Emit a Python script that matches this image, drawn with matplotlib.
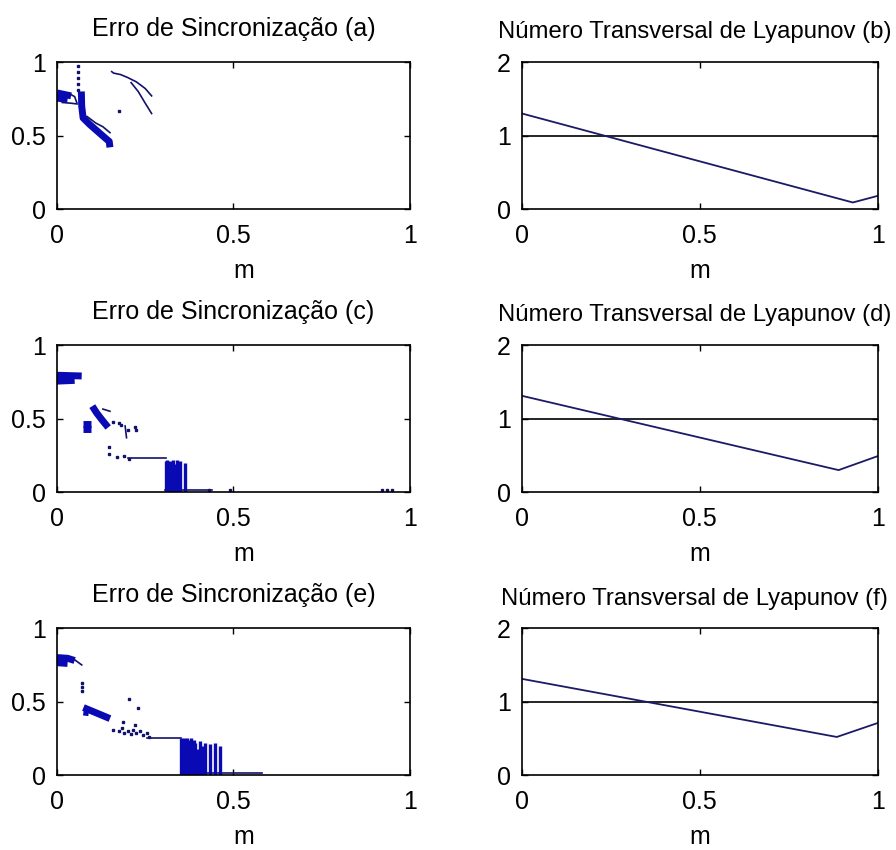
"""Synchronization error and transversal Lyapunov number versus m."""
import matplotlib.pyplot as plt

plt.rcParams["font.family"] = ["Liberation Sans", "DejaVu Sans"]

DENSE_BLUE = "#0a0ab4"
DARK_BLUE = "#12126a"
LINE_BLUE = "#1a1a66"

M_TICKS = [0, 0.5, 1]
ERR_TICKS = [0, 0.5, 1]
LYAP_TICKS = [0, 1, 2]
LYAP_REF = 1.0

err_titles = ["Erro de Sincronização (a)", "Erro de Sincronização (c)", "Erro de Sincronização (e)"]
lyap_titles = [
    "Número Transversal de Lyapunov (b)",
    "Número Transversal de Lyapunov (d)",
    "Número Transversal de Lyapunov (f)",
]

# transversal Lyapunov number (breakpoints of each curve)
lyap_b_m = [0.0, 0.93, 1.0]
lyap_b = [1.30, 0.09, 0.18]
lyap_d_m = [0.0, 0.89, 1.0]
lyap_d = [1.31, 0.30, 0.49]
lyap_f_m = [0.0, 0.885, 1.0]
lyap_f = [1.31, 0.52, 0.71]

# synchronization error (a): dense clusters, thin branches, isolated points
err_a_dense = [
    ([0.0, 0.02, 0.04], [0.79, 0.78, 0.77]),
    ([0.0, 0.03], [0.755, 0.745]),
    ([0.069, 0.070, 0.074, 0.093, 0.112, 0.131, 0.148, 0.150],
     [0.80, 0.70, 0.62, 0.575, 0.535, 0.495, 0.46, 0.42]),
]
err_a_thin = [
    ([0.035, 0.05, 0.056], [0.785, 0.765, 0.725]),
    ([0.015, 0.04, 0.057], [0.725, 0.72, 0.715]),
    ([0.085, 0.11, 0.13, 0.15], [0.63, 0.585, 0.56, 0.52]),
    ([0.155, 0.16, 0.18, 0.20, 0.225, 0.25, 0.268], [0.935, 0.925, 0.915, 0.895, 0.865, 0.82, 0.77]),
    ([0.21, 0.23, 0.25, 0.268], [0.86, 0.80, 0.72, 0.65]),
]
err_a_dots_m = [0.059, 0.059, 0.059, 0.059, 0.059, 0.176]
err_a_dots = [0.97, 0.93, 0.89, 0.85, 0.81, 0.67]
err_a_bars_m = []
err_a_bars = []

# synchronization error (c)
err_c_dense = [
    ([0.0, 0.07], [0.795, 0.79]),
    ([0.0, 0.05], [0.755, 0.76]),
    ([0.100, 0.112, 0.128, 0.145], [0.585, 0.54, 0.49, 0.44]),
    ([0.075, 0.096], [0.465, 0.465]),
    ([0.075, 0.096], [0.43, 0.43]),
]
err_c_thin = [
    ([0.20, 0.31], [0.235, 0.235]),
    ([0.13, 0.15], [0.565, 0.55]),
    ([0.306, 0.44], [0.012, 0.012]),
    ([0.193, 0.197], [0.45, 0.37]),
]
err_c_dots_m = [0.16, 0.175, 0.18, 0.2, 0.22, 0.225, 0.148, 0.148, 0.17, 0.19, 0.205,
                0.43, 0.49, 0.92, 0.935, 0.948]
err_c_dots = [0.48, 0.47, 0.455, 0.42, 0.445, 0.42, 0.31, 0.26, 0.24, 0.245, 0.225,
              0.012, 0.015, 0.012, 0.012, 0.012]
err_c_bars_m = [0.308, 0.312, 0.316, 0.320, 0.324, 0.328, 0.332, 0.341, 0.348, 0.363]
err_c_bars = [0.21, 0.22, 0.17, 0.21, 0.16, 0.22, 0.19, 0.22, 0.21, 0.20]

# synchronization error (e)
err_e_dense = [
    ([0.0, 0.03, 0.05], [0.80, 0.795, 0.78]),
    ([0.0, 0.03], [0.765, 0.76]),
    ([0.075, 0.10, 0.125, 0.150], [0.46, 0.435, 0.41, 0.385]),
    ([0.075, 0.09], [0.43, 0.425]),
]
err_e_thin = [
    ([0.05, 0.07], [0.785, 0.75]),
    ([0.254, 0.35], [0.255, 0.255]),
    ([0.35, 0.58], [0.012, 0.012]),
]
err_e_dots_m = [0.07, 0.07, 0.07, 0.204, 0.23, 0.188, 0.22, 0.16, 0.175, 0.185, 0.19, 0.2,
                0.21, 0.215, 0.225, 0.235, 0.245, 0.255, 0.26]
err_e_dots = [0.63, 0.6, 0.57, 0.52, 0.46, 0.365, 0.34, 0.31, 0.30, 0.32, 0.29, 0.30,
              0.28, 0.31, 0.29, 0.30, 0.27, 0.29, 0.26]
err_e_bars_m = [0.352, 0.356, 0.36, 0.364, 0.368, 0.372, 0.376, 0.38, 0.384, 0.388, 0.392,
                0.396, 0.405, 0.41, 0.42, 0.433, 0.448, 0.462]
err_e_bars = [0.25, 0.24, 0.25, 0.22, 0.25, 0.24, 0.23, 0.25, 0.21, 0.24, 0.22,
              0.18, 0.23, 0.2, 0.22, 0.21, 0.22, 0.2]


def style_axes(ax, yticks, yticklabels):
    """Boxed axes with inward ticks on every side."""
    ax.set_xlim(0, 1)
    ax.set_ylim(yticks[0], yticks[-1])
    ax.set_xticks(M_TICKS)
    ax.set_xticklabels(["0", "0.5", "1"])
    ax.set_yticks(yticks)
    ax.set_yticklabels(yticklabels)
    ax.tick_params(direction="in", top=True, right=True, length=4, width=1,
                   labelsize=18, pad=8)
    ax.tick_params(axis="x", pad=11)
    for sp in ax.spines.values():
        sp.set_linewidth(1.2)
    ax.set_xlabel("m", fontsize=18)


def err_panel(ax, title, dense, thin, dots_m, dots, bars_m, bars):
    """Scatter of synchronization error."""
    for m, e in dense:
        ax.plot(m, e, color=DENSE_BLUE, lw=5, solid_capstyle="butt")
    for m, e in thin:
        ax.plot(m, e, color=DARK_BLUE, lw=1.2)
    if bars_m:
        ax.vlines(bars_m, 0, bars, color=DENSE_BLUE, lw=2.4)
    ax.plot(dots_m, dots, "s", ms=1.8, color=DARK_BLUE, ls="none")
    style_axes(ax, ERR_TICKS, ["0", "0.5", "1"])
    ax.set_title(title, fontsize=18, pad=19)
    ax.xaxis.set_label_coords(0.53, -0.34)


def lyap_panel(ax, title, m, lyap):
    """Transversal Lyapunov number with the unit reference line."""
    ax.axhline(LYAP_REF, color="black", lw=1.2)
    ax.plot(m, lyap, color=LINE_BLUE, lw=1.3)
    style_axes(ax, LYAP_TICKS, ["0", "1", "2"])
    ax.set_title(title, fontsize=17.2, pad=17, x=0.486)
    ax.xaxis.set_label_coords(0.5, -0.34)


fig = plt.figure(figsize=(8.96, 8.5), dpi=100)
rows = [0.754, 0.421, 0.088]
err_data = [
    (err_a_dense, err_a_thin, err_a_dots_m, err_a_dots, err_a_bars_m, err_a_bars),
    (err_c_dense, err_c_thin, err_c_dots_m, err_c_dots, err_c_bars_m, err_c_bars),
    (err_e_dense, err_e_thin, err_e_dots_m, err_e_dots, err_e_bars_m, err_e_bars),
]
lyap_data = [(lyap_b_m, lyap_b), (lyap_d_m, lyap_d), (lyap_f_m, lyap_f)]

for i, bottom in enumerate(rows):
    ax_l = fig.add_axes([0.0636, bottom, 0.394, 0.173])
    err_panel(ax_l, err_titles[i], *err_data[i])
    ax_r = fig.add_axes([0.5826, bottom, 0.397, 0.173])
    lyap_panel(ax_r, lyap_titles[i], *lyap_data[i])

fig.savefig("out.png", dpi=100)
